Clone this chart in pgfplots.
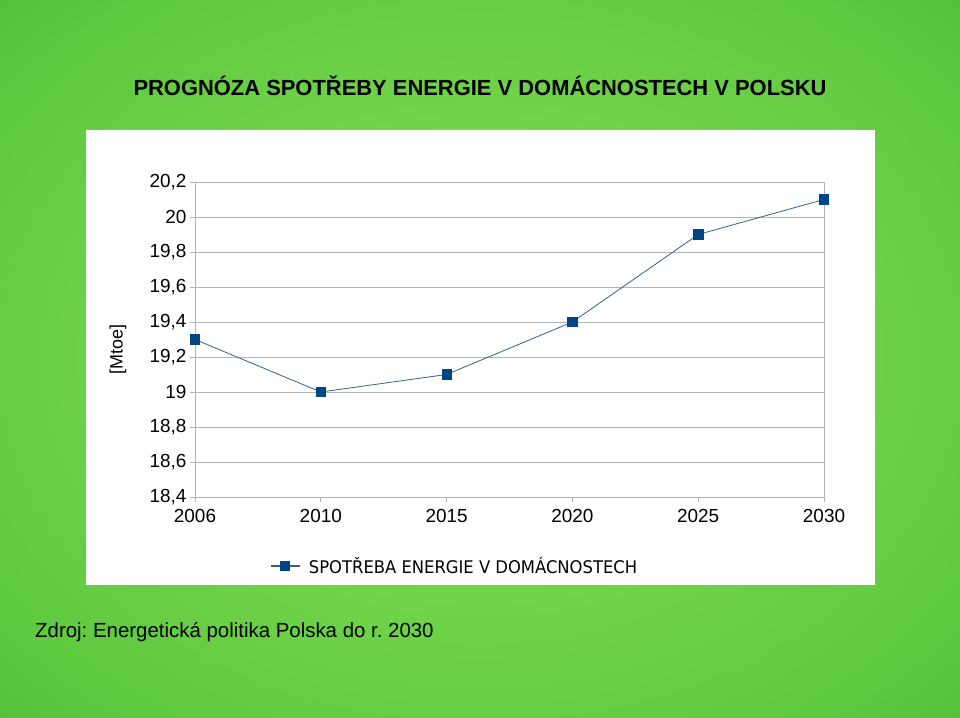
\documentclass[border=0pt]{standalone}
\usepackage{fontspec}
\setmainfont{Liberation Sans}
\newfontfamily\legfont[FakeStretch=0.94]{DejaVu Sans}
\usepackage{pgfplots}
\pgfplotsset{compat=1.18}
\frenchspacing

\definecolor{bgin}{HTML}{88E257}
\definecolor{bgmid}{HTML}{5FC940}
\definecolor{bgout}{HTML}{38A42F}
\definecolor{serie}{HTML}{004586}
\definecolor{serieline}{HTML}{35608A}
\definecolor{gridc}{HTML}{B3B3B3}

\pgfdeclareradialshading{bgshade}{\pgfpoint{0bp}{0bp}}{color(0bp)=(bgin); color(30bp)=(bgmid); color(55bp)=(bgout); color(80bp)=(bgout)}
\pgfdeclarelayer{background}
\pgfsetlayers{background,main}

\begin{document}
\begin{tikzpicture}[x=1bp,y=1bp]
\begin{axis}[
  width=629bp, height=315bp, scale only axis,
  xmin=0, xmax=5, ymin=18.4, ymax=20.2,
  xtick={0,1,2,3,4,5},
  xticklabels={2006,2010,2015,2020,2025,2030},
  ytick={18.4,18.6,18.8,19,19.2,19.4,19.6,19.8,20,20.2},
  /pgf/number format/use comma,
  /pgf/number format/assume math mode=true,
  ymajorgrids,
  grid style={gridc, line width=0.9bp},
  axis line style={gridc, line width=0.9bp},
  tick style={gridc, line width=0.9bp},
  tick align=outside, tick pos=left,
  major tick length=5bp,
  ticklabel style={font=\fontsize{19}{21}\selectfont, text=black},
  xticklabel style={yshift=-4bp},
  ylabel={[Mtoe]},
  ylabel style={at={(axis description cs:-0.1224,0.467)}, anchor=center, font=\fontsize{18}{20}\selectfont},
  legend style={at={(axis description cs:0.4126,-0.219)}, anchor=center, draw=none, fill=none, font=\legfont\fontsize{17.5}{19}\selectfont},
  legend image code/.code={\draw[#1, line width=1.3bp, mark repeat=2, mark phase=2] plot coordinates {(0bp,0bp) (14.5bp,0bp) (29bp,0bp)}; \path (36bp,0bp);},
]
\addplot[color=serieline, line width=0.8bp, mark=square*, mark size=4.7bp, mark options={fill=serie, draw=serie}]
  coordinates {(0,19.3) (1,19.0) (2,19.1) (3,19.4) (4,19.9) (5,20.1)};
\addlegendentry{SPOTŘEBA ENERGIE V DOMÁCNOSTECH}
\coordinate (SW) at (rel axis cs:0,0);
\end{axis}
\begin{pgfonlayer}{background}
\shade[shading=bgshade] ([shift={(-195,-221)}]SW) rectangle ([shift={(765,497)}]SW);
\fill[white] ([shift={(-109,-88)}]SW) rectangle ([shift={(680,367)}]SW);
\end{pgfonlayer}
\node[font=\bfseries\fontsize{22}{24}\selectfont] at ([shift={(285,411)}]SW) {PROGNÓZA SPOTŘEBY ENERGIE V DOMÁCNOSTECH V POLSKU};
\node[anchor=west, font=\fontsize{20.5}{24}\selectfont, inner sep=0pt] at ([shift={(-160,-135)}]SW) {Zdroj: Energetická politika Polska do r. 2030};
\end{tikzpicture}
\end{document}
